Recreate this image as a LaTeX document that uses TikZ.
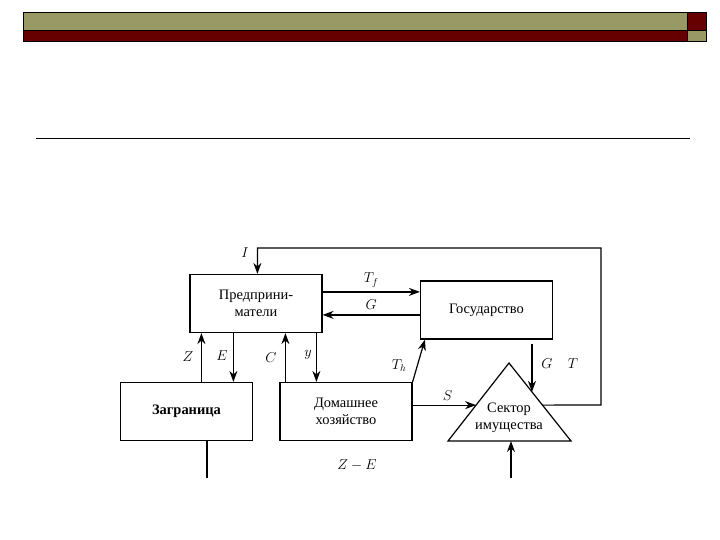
\documentclass[tikz,border=0pt]{standalone}
\usepackage{fontspec}
\setmainfont{Liberation Serif}
\usetikzlibrary{arrows.meta,calc,positioning}
\definecolor{olivebar}{RGB}{153,153,102}
\definecolor{redbar}{RGB}{102,0,0}
\tikzset{
  block/.style={draw,rectangle,line width=1.2pt,minimum width=132bp,minimum height=58bp,align=center,inner sep=0pt,font=\fontsize{14.5}{17}\selectfont},
  lbl/.style={font=\fontsize{14.5}{17}\selectfont},
  bar/.style={draw=black,line width=0.6pt}
}
\begin{document}
\begin{tikzpicture}[x=1bp,y=-1bp,>={Stealth[length=11bp,width=8bp]},line width=1.2pt]
  \useasboundingbox (0,0) rectangle (720,540);
  % slide header
  \fill[bar,fill=olivebar] (23,12) rectangle (687,30);
  \fill[bar,fill=redbar] (23,30) rectangle (687,41);
  \fill[bar,fill=redbar] (687,12) rectangle (706,30);
  \fill[bar,fill=olivebar] (687,30) rectangle (706,41);
  \draw[line width=0.9pt] (36,138) -- (690,138);

  \node[block] (pred) at (256,303.5) {Предприни-\\матели};
  \node[block] (gos) at (486.5,310) {Государство};
  \node[block] (zagr) at (186.5,411.5) {\textbf{Заграница}};
  \node[block] (dom) at (346,411.5) {Домашнее\\хозяйство};

  % triangle
  \coordinate (ta) at (509,363);
  \coordinate (tl) at (448,441);
  \coordinate (tr) at (571,441);
  \draw (ta) -- (tl) -- (tr) -- cycle;
  \node[lbl,align=center] (sec) at (509,418) {Сектор\\имущества};

  % loop I
  \coordinate (loopin) at ($(ta)!0.54!(tr)$);
  \coordinate (ptop) at ($(pred.north west)+(68,0)$);
  \draw[->] (loopin) -- (601,405) -- (601,248) -- (ptop |- 0,248) -- (ptop);
  \node[lbl] at (245,253) {$I$};

  % Tf and G
  \coordinate (tf) at ($(pred.north east)+(0,18)$);
  \coordinate (gg) at ($(pred.north east)+(0,41)$);
  \draw[->] (tf) -- (gos.west |- tf) node[lbl,midway,above=1bp] {$T_f$};
  \draw[->] (gos.west |- gg) -- (gg) node[lbl,midway,above=1bp] {$G$};

  % Z, E, C, y
  \coordinate (zz) at ($(pred.south west)+(12,0)$);
  \coordinate (ee) at ($(pred.south west)+(44,0)$);
  \coordinate (cc) at ($(pred.south west)+(96,0)$);
  \coordinate (yy) at ($(pred.south west)+(127,0)$);
  \draw[->] (zz |- zagr.north) -- (zz);
  \draw[->] (ee) -- (ee |- zagr.north);
  \draw[->] (cc |- dom.north) -- (cc);
  \draw[->] (yy) -- (yy |- dom.north);
  \node[lbl] at (188,357) {$Z$};
  \node[lbl] at (222,356) {$E$};
  \node[lbl] at (271,358) {$C$};
  \node[lbl] at (308,355) {$y$};

  % Th
  \draw[->] (dom.north east) -- ($(gos.south west)+(5,0)$);
  \node[lbl] at (399,366) {$T_h$};

  % S
  \coordinate (sin) at ($(ta)!0.54!(tl)$);
  \draw[->] (dom.east |- sin) -- (sin) node[lbl,pos=0.55,above=1bp] {$S$};

  % G, T into sector
  \coordinate (gin) at ($(ta)!0.37!(tr)$);
  \draw[->] ($(gin |- gos.south)+(0,4)$) -- (gin);
  \node[lbl] at (547,364) {$G$};
  \node[lbl] at (573,364) {$T$};

  % bottom lines
  \coordinate (bot) at (511,441);
  \draw[->] (511,478) -- (bot);
  \draw ($(zagr.south west)+(87,0)$) -- ++(0,37);
  \node[lbl] at (357,465) {$Z-E$};
\end{tikzpicture}
\end{document}
